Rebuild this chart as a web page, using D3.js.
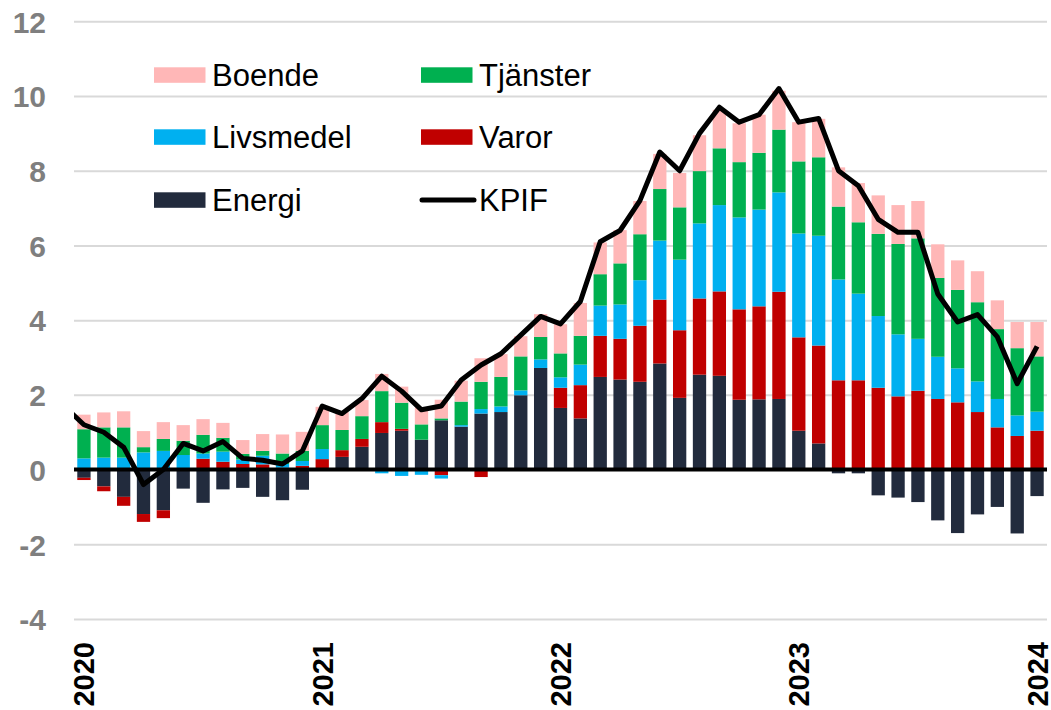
<!DOCTYPE html>
<html>
<head>
<meta charset="utf-8">
<script src="https://cdn.jsdelivr.net/npm/d3@7/dist/d3.min.js"></script>
<style>
  html, body { margin: 0; padding: 0; background: #fff; }
  svg { display: block; font-family: "Liberation Sans", Arial, sans-serif; }
</style>
</head>
<body>
<svg id="chart" width="1051" height="710"></svg>
<script>
// ---------------- DATA ----------------
// Months: December 2019 (only used by the KPIF line, off the left edge) then Jan 2020 – Jan 2024
const months = [
  "2019-12",
  "2020-01","2020-02","2020-03","2020-04","2020-05","2020-06","2020-07","2020-08","2020-09","2020-10","2020-11","2020-12",
  "2021-01","2021-02","2021-03","2021-04","2021-05","2021-06","2021-07","2021-08","2021-09","2021-10","2021-11","2021-12",
  "2022-01","2022-02","2022-03","2022-04","2022-05","2022-06","2022-07","2022-08","2022-09","2022-10","2022-11","2022-12",
  "2023-01","2023-02","2023-03","2023-04","2023-05","2023-06","2023-07","2023-08","2023-09","2023-10","2023-11","2023-12",
  "2024-01"
];
const barMonths = months.slice(1);

const yearTicks = ["2020-01","2021-01","2022-01","2023-01","2024-01"];
const yearLabels = ["2020","2021","2022","2023","2024"];
const yTicks = [-4,-2,0,2,4,6,8,10,12];
const yTickLabels = ["-4","-2","0","2","4","6","8","10","12"];

// Contributions (percentage points), Jan 2020 – Jan 2024
const energi = [
  -0.22,-0.45,-0.73,-1.19,-1.09,-0.51,-0.89,-0.53,-0.49,-0.73,-0.82,-0.54,
   0.00, 0.34, 0.61, 0.98, 1.04, 0.80, 1.32, 1.15, 1.50, 1.54, 1.99, 2.72,
   1.65, 1.37, 2.48, 2.41, 2.35, 2.84, 1.92, 2.54, 2.51, 1.87, 1.88, 1.89,
   1.04, 0.70,-0.10,-0.10,-0.69,-0.75,-0.87,-1.36,-1.70,-1.20,-1.00,-1.71,
  -0.71
];
const varor = [
  -0.06,-0.13,-0.24,-0.21,-0.21, 0.00, 0.29, 0.21, 0.15, 0.14, 0.05, 0.10,
   0.28, 0.18, 0.21, 0.29, 0.05, 0.00,-0.15, 0.00,-0.20, 0.00, 0.00, 0.00,
   0.54, 0.89, 1.10, 1.09, 1.50, 1.71, 1.81, 2.04, 2.26, 2.42, 2.49, 2.87,
   2.50, 2.62, 2.39, 2.39, 2.19, 1.96, 2.11, 1.89, 1.80, 1.54, 1.13, 0.90,
   1.04
];
const livsmedel = [
   0.30, 0.32, 0.32, 0.46, 0.50, 0.39, 0.14, 0.27, 0.12, 0.23, 0.10, 0.13,
   0.27, 0.00, 0.00,-0.10,-0.17,-0.14,-0.09, 0.04, 0.12, 0.15, 0.13, 0.23,
   0.28, 0.55, 0.81, 0.92, 1.22, 1.58, 1.89, 2.01, 2.31, 2.46, 2.59, 2.66,
   2.78, 2.94, 2.70, 2.32, 1.92, 1.66, 1.39, 1.13, 0.91, 0.82, 0.76, 0.55,
   0.51
];
const tjanster = [
   0.78, 0.81, 0.81, 0.14, 0.32, 0.38, 0.50, 0.37, 0.15, 0.13, 0.28, 0.27,
   0.64, 0.54, 0.61, 0.83, 0.70, 0.41, 0.05, 0.63, 0.73, 0.79, 0.91, 0.60,
   0.64, 0.77, 0.84, 1.10, 1.23, 1.38, 1.40, 1.40, 1.52, 1.48, 1.52, 1.68,
   1.93, 2.10, 1.95, 1.91, 2.20, 2.42, 2.69, 2.11, 2.10, 2.12, 1.87, 1.80,
   1.48
];
const boende = [
   0.39, 0.40, 0.43, 0.43, 0.45, 0.42, 0.42, 0.40, 0.37, 0.45, 0.51, 0.51,
   0.49, 0.49, 0.43, 0.46, 0.43, 0.46, 0.50, 0.56, 0.63, 0.61, 0.54, 0.61,
   0.78, 0.88, 0.85, 0.89, 0.89, 0.94, 0.92, 0.96, 1.03, 1.04, 1.02, 1.04,
   1.05, 1.03, 1.05, 1.05, 1.03, 1.04, 1.00, 0.90, 0.79, 0.83, 0.77, 0.70,
   0.92
];
// KPIF, Dec 2019 – Jan 2024
const kpif = [
  1.7,
  1.2, 1.0, 0.6,-0.4, 0.0, 0.7, 0.5, 0.75, 0.3, 0.25, 0.15, 0.5,
  1.7, 1.5, 1.9, 2.5, 2.1, 1.6, 1.7, 2.4, 2.8, 3.1, 3.6, 4.1,
  3.9, 4.5, 6.1, 6.4, 7.2, 8.5, 8.0, 9.0, 9.7, 9.3, 9.5, 10.2,
  9.3, 9.4, 8.0, 7.6, 6.7, 6.35, 6.35, 4.7, 3.95, 4.15, 3.55, 2.3,
  3.3
];

const seriesNames = ["Energi","Varor","Livsmedel","Tjänster","Boende"];
const seriesValues = [energi, varor, livsmedel, tjanster, boende];
const seriesColors = ["#222b3d","#c00000","#00b0f0","#00b050","#ffb7b7"];

// ---------------- LAYOUT ----------------
const W = 1051, H = 710;
const plotL = 74, plotR = 1047;
const nBars = barMonths.length;
const step = (plotR - plotL) / nBars;

const svg = d3.select("#chart");

const x = d3.scaleBand()
  .domain(months)
  .range([plotL - step, plotR])
  .paddingInner(0.33)
  .paddingOuter(0.165);

const y = d3.scaleLinear().domain([-4, 12]).range([619, 21.3]);

// table for stacking
const table = barMonths.map((m, i) => {
  const row = { month: m };
  seriesNames.forEach((s, k) => row[s] = seriesValues[k][i]);
  return row;
});
const stacked = d3.stack().keys(seriesNames).offset(d3.stackOffsetDiverging)(table);

// clip path for plot area
svg.append("defs").append("clipPath").attr("id", "plotClip")
  .append("rect").attr("x", plotL).attr("y", 0).attr("width", plotR - plotL + 8).attr("height", H);

// Y axis with gridlines
const yAxis = d3.axisLeft(y).tickValues(yTicks).tickSize(-(plotR - plotL)).tickPadding(28)
  .tickFormat((d, i) => yTickLabels[i]);
const gy = svg.append("g").attr("transform", `translate(${plotL},0)`).call(yAxis);
gy.select(".domain").remove();
gy.selectAll(".tick line").attr("stroke", "#d9d9d9").attr("stroke-width", 2)
  .attr("opacity", d => d === 0 ? 0 : 1);
gy.selectAll(".tick text")
  .attr("fill", "#7f7f7f")
  .style("font-family", "'Liberation Sans', Arial, sans-serif")
  .style("font-size", "30px")
  .style("font-weight", "bold")
  .attr("dy", "0.36em");

// Bars
svg.append("g").selectAll("g")
  .data(stacked)
  .join("g")
  .attr("fill", (d, i) => seriesColors[i])
  .selectAll("rect")
  .data(d => d)
  .join("rect")
  .attr("x", d => x(d.data.month))
  .attr("width", x.bandwidth())
  .attr("y", d => y(Math.max(d[0], d[1])))
  .attr("height", d => Math.abs(y(d[0]) - y(d[1])));

// Zero line
svg.append("line")
  .attr("x1", plotL).attr("x2", plotR)
  .attr("y1", y(0)).attr("y2", y(0))
  .attr("stroke", "#000").attr("stroke-width", 4);

// KPIF line
const line = d3.line()
  .x((d, i) => x(months[i]) + x.bandwidth() / 2)
  .y(d => y(d));
svg.append("path")
  .datum(kpif)
  .attr("clip-path", "url(#plotClip)")
  .attr("d", line)
  .attr("fill", "none")
  .attr("stroke", "#000")
  .attr("stroke-width", 5)
  .attr("stroke-linejoin", "round")
  .attr("stroke-linecap", "butt");

// X axis (year labels)
const xAxis = d3.axisBottom(x).tickValues(yearTicks)
  .tickFormat((d, i) => yearLabels[i]).tickSize(0);
const gx = svg.append("g").attr("transform", `translate(0,642)`).call(xAxis);
gx.select(".domain").remove();
gx.selectAll(".tick text")
  .attr("transform", "rotate(-90)")
  .attr("x", 0).attr("y", 0)
  .attr("dy", "0.36em")
  .attr("text-anchor", "end")
  .attr("fill", "#000")
  .style("font-family", "'Liberation Sans', Arial, sans-serif")
  .style("font-size", "29px")
  .style("font-weight", "bold");

// Legend
const legendItems = [
  { name: "Boende",    color: seriesColors[4], type: "rect", col: 0, row: 0 },
  { name: "Tjänster",  color: seriesColors[3], type: "rect", col: 1, row: 0 },
  { name: "Livsmedel", color: seriesColors[2], type: "rect", col: 0, row: 1 },
  { name: "Varor",     color: seriesColors[1], type: "rect", col: 1, row: 1 },
  { name: "Energi",    color: seriesColors[0], type: "rect", col: 0, row: 2 },
  { name: "KPIF",      color: "#000",          type: "line", col: 1, row: 2 }
];
const colX = [154, 421];
const rowY = [75, 137, 200];
const lg = svg.append("g").selectAll("g").data(legendItems).join("g")
  .attr("transform", d => `translate(${colX[d.col]},${rowY[d.row]})`);
lg.filter(d => d.type === "rect").append("rect")
  .attr("x", 0).attr("y", -7.7).attr("width", 51.5).attr("height", 15.5)
  .attr("fill", d => d.color);
lg.filter(d => d.type === "line").append("line")
  .attr("x1", 1).attr("x2", 53).attr("y1", 0).attr("y2", 0)
  .attr("stroke", "#000").attr("stroke-width", 5).attr("stroke-linecap", "round");
lg.append("text")
  .attr("x", 58).attr("y", 0).attr("dy", "0.36em")
  .attr("fill", "#000")
  .style("font-size", "31px")
  .text(d => d.name);
</script>
</body>
</html>
